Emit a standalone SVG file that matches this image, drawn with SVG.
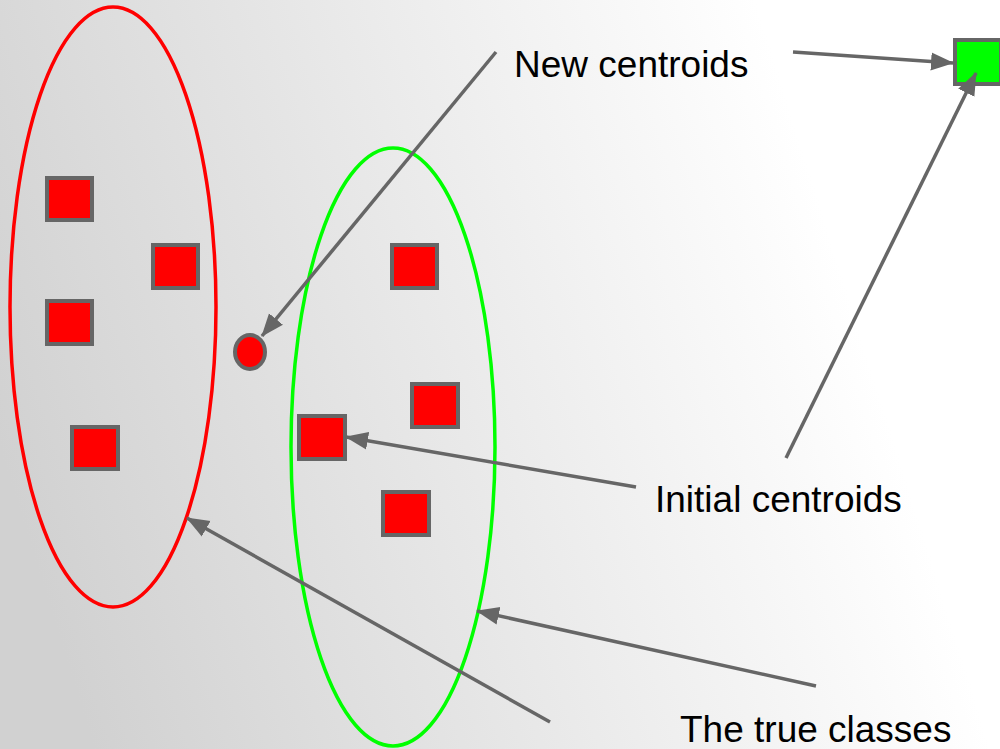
<svg xmlns="http://www.w3.org/2000/svg" width="1000" height="749" viewBox="0 0 1000 749">
  <defs>
    <linearGradient id="bg" x1="0" y1="0.6" x2="0.85" y2="0.4">
      <stop offset="0" stop-color="#d1d1d1"/>
      <stop offset="1" stop-color="#ffffff"/>
    </linearGradient>
    <marker id="head" markerUnits="userSpaceOnUse" markerWidth="24" markerHeight="20" viewBox="0 0 24 20" refX="22" refY="10" orient="auto">
      <path d="M0,1 L23,10 L0,19 Z" fill="#666666"/>
    </marker>
    <style>
      .pt { fill: #ff0000; stroke: #666666; stroke-width: 4; }
      .conn { stroke: #666666; stroke-width: 3.5; fill: none; marker-end: url(#head); }
      .label { font-family: "Liberation Sans", Arial, sans-serif; font-size: 37px; fill: #000000; }
    </style>
  </defs>

  <rect x="0" y="0" width="1000" height="749" fill="url(#bg)"/>

  <!-- clusters -->
  <g id="cluster-red">
    <ellipse cx="113" cy="307" rx="103" ry="300" fill="none" stroke="#ff0000" stroke-width="3.5"/>
  </g>
  <g id="cluster-green">
    <ellipse cx="393" cy="447" rx="102" ry="299" fill="none" stroke="#00ff00" stroke-width="3.5"/>
  </g>

  <!-- data points -->
  <g id="p1"><rect class="pt" x="47" y="178" width="45" height="42"/></g>
  <g id="p2"><rect class="pt" x="153" y="245" width="45" height="43"/></g>
  <g id="p3"><rect class="pt" x="47" y="301" width="45" height="43"/></g>
  <g id="p4"><rect class="pt" x="72" y="427" width="46" height="42"/></g>
  <g id="p5"><rect class="pt" x="392" y="245" width="45" height="43"/></g>
  <g id="p6"><rect class="pt" x="412" y="384" width="46" height="43"/></g>
  <g id="p7"><rect class="pt" x="299" y="416" width="46" height="43"/></g>
  <g id="p8"><rect class="pt" x="383" y="492" width="46" height="43"/></g>

  <!-- centroids -->
  <g id="centroid-red"><ellipse class="pt" cx="250" cy="352" rx="15" ry="17"/></g>
  <g id="centroid-green"><rect class="pt" x="955" y="40" width="46" height="44" style="fill:#00ff00"/></g>

  <!-- labels -->
  <g id="label-new"><text class="label" x="514" y="77">New centroids</text></g>
  <g id="label-initial"><text class="label" x="655" y="512">Initial centroids</text></g>
  <g id="label-true"><text class="label" x="680" y="742">The true classes</text></g>

  <!-- connectors -->
  <g id="connectors">
    <line class="conn" x1="496" y1="52" x2="262" y2="336"/>
    <line class="conn" x1="793" y1="52" x2="953" y2="63"/>
    <line class="conn" x1="786" y1="458" x2="976" y2="73"/>
    <line class="conn" x1="636" y1="487" x2="346" y2="437"/>
    <line class="conn" x1="816" y1="686" x2="477" y2="611"/>
    <line class="conn" x1="550" y1="722" x2="187" y2="518"/>
  </g>
</svg>
